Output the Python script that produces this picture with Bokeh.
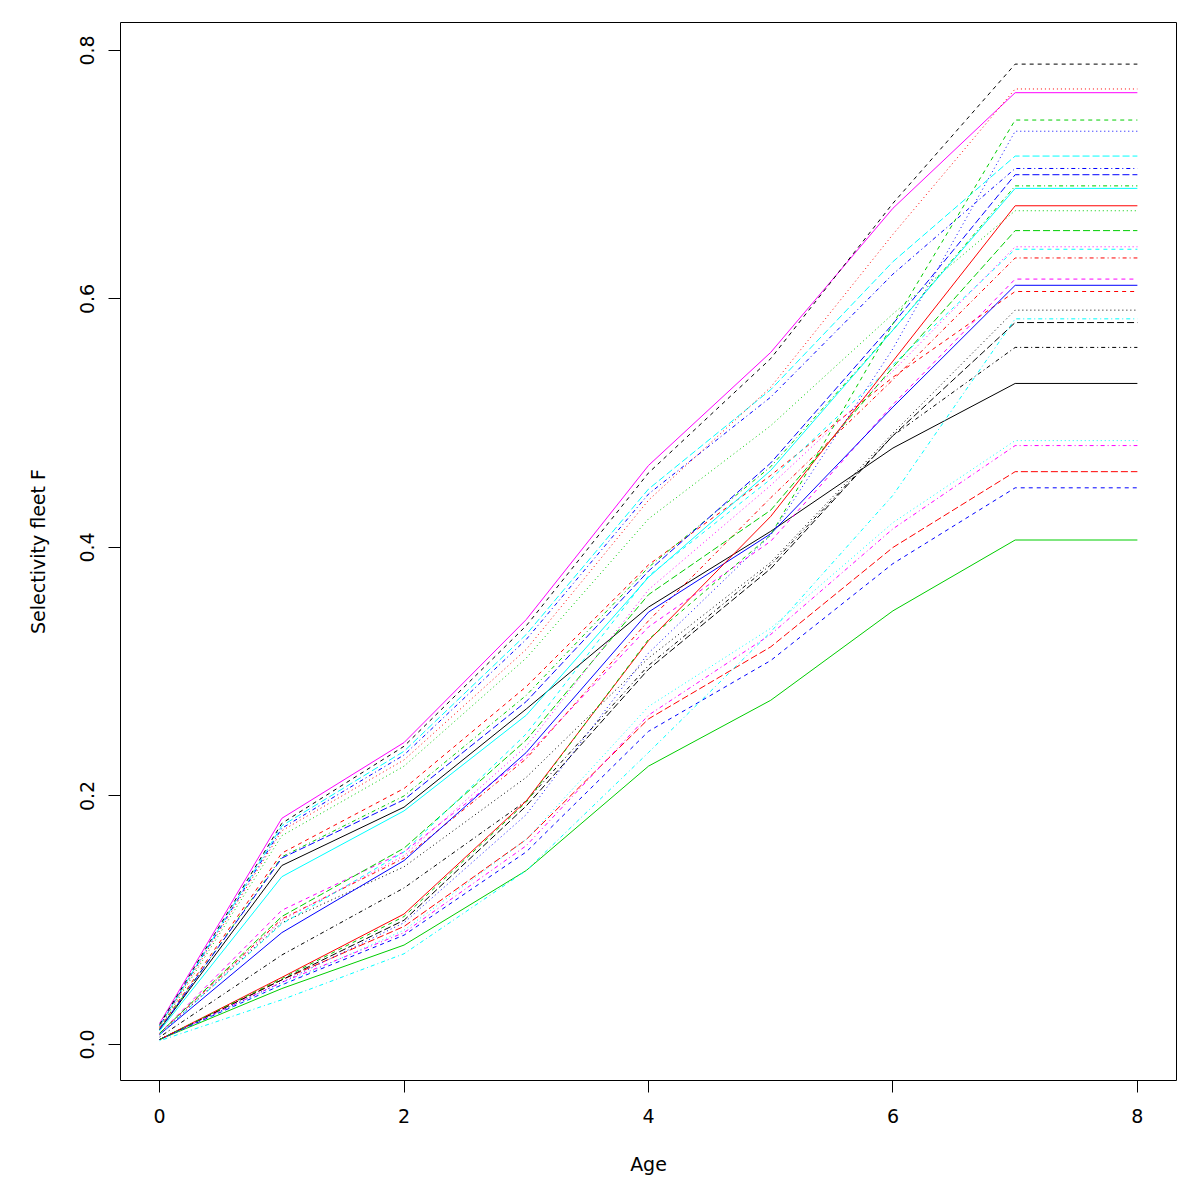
from bokeh.plotting import figure
from bokeh.models import Range1d, FixedTicker, Label
from bokeh.embed import file_html
from bokeh.resources import INLINE

ages = [0, 1, 2, 3, 4, 5, 6, 7, 8]
x_ticks = [0, 2, 4, 6, 8]
y_ticks = [0.0, 0.2, 0.4, 0.6, 0.8]

# R matplot default cycles
palette = ["black", "#FF0000", "#00CD00", "#0000FF", "#00FFFF", "#FF00FF"]
ltys = ["solid", "4 4", "1 3", "1 3 4 3", "7 3"]

y01 = [0.012, 0.144, 0.191, 0.270, 0.352, 0.413, 0.480, 0.532, 0.532]
y02 = [0.013, 0.154, 0.206, 0.288, 0.386, 0.458, 0.537, 0.606, 0.606]
y03 = [0.013, 0.168, 0.224, 0.311, 0.423, 0.498, 0.588, 0.671, 0.671]
y04 = [0.015, 0.174, 0.233, 0.326, 0.443, 0.521, 0.620, 0.705, 0.705]
y05 = [0.015, 0.176, 0.236, 0.330, 0.447, 0.527, 0.630, 0.715, 0.715]
y06 = [0.017, 0.182, 0.243, 0.342, 0.466, 0.557, 0.673, 0.766, 0.766]
y07 = [0.016, 0.178, 0.240, 0.337, 0.460, 0.552, 0.677, 0.789, 0.789]
y08 = [0.014, 0.172, 0.229, 0.318, 0.438, 0.529, 0.652, 0.769, 0.769]
y09 = [0.012, 0.151, 0.200, 0.281, 0.384, 0.465, 0.575, 0.691, 0.691]
y10 = [0.012, 0.150, 0.197, 0.276, 0.381, 0.468, 0.580, 0.700, 0.700]
y11 = [0.011, 0.135, 0.188, 0.265, 0.376, 0.462, 0.575, 0.689, 0.689]
y12 = [0.009, 0.108, 0.155, 0.232, 0.336, 0.405, 0.515, 0.616, 0.616]
y13 = [0.008, 0.098, 0.143, 0.215, 0.311, 0.388, 0.492, 0.591, 0.591]
y14 = [0.009, 0.101, 0.150, 0.230, 0.341, 0.440, 0.535, 0.633, 0.633]
y15 = [0.009, 0.103, 0.158, 0.245, 0.362, 0.430, 0.545, 0.655, 0.655]
y16 = [0.008, 0.090, 0.148, 0.235, 0.348, 0.411, 0.513, 0.611, 0.611]
y17 = [0.008, 0.097, 0.155, 0.250, 0.377, 0.455, 0.547, 0.640, 0.640]
y18 = [0.008, 0.100, 0.152, 0.240, 0.366, 0.450, 0.542, 0.642, 0.642]
y19 = [0.006, 0.072, 0.126, 0.196, 0.305, 0.386, 0.490, 0.561, 0.561]
y20 = [0.004, 0.052, 0.095, 0.165, 0.262, 0.320, 0.400, 0.461, 0.461]
y21 = [0.004, 0.045, 0.080, 0.140, 0.224, 0.277, 0.349, 0.406, 0.406]
y22 = [0.004, 0.048, 0.088, 0.155, 0.252, 0.309, 0.387, 0.448, 0.448]
y23 = [0.004, 0.048, 0.092, 0.165, 0.272, 0.335, 0.420, 0.486, 0.486]
y24 = [0.004, 0.050, 0.090, 0.160, 0.265, 0.330, 0.415, 0.482, 0.482]
y25 = [0.004, 0.052, 0.100, 0.192, 0.302, 0.383, 0.490, 0.581, 0.581]
y26 = [0.004, 0.054, 0.105, 0.196, 0.325, 0.425, 0.550, 0.675, 0.675]
y27 = [0.004, 0.053, 0.103, 0.195, 0.326, 0.410, 0.580, 0.744, 0.744]
y28 = [0.004, 0.050, 0.098, 0.185, 0.315, 0.410, 0.560, 0.735, 0.735]
y29 = [0.003, 0.036, 0.073, 0.140, 0.235, 0.332, 0.442, 0.584, 0.584]

series = [y01, y02, y03, y04, y05, y06, y07, y08, y09, y10, y11, y12, y13, y14, y15,
          y16, y17, y18, y19, y20, y21, y22, y23, y24, y25, y26, y27, y28, y29]

FONT = "DejaVu Sans"

p = figure(width=1192, height=1200, output_backend="svg", toolbar_location=None,
           x_range=Range1d(-0.32, 8.32), y_range=Range1d(-0.0290, 0.8225),
           min_border_left=120, min_border_right=16, min_border_top=22, min_border_bottom=120,
           x_axis_label="Age", y_axis_label="Selectivity fleet F")
p.background_fill_color = "white"
p.border_fill_color = "white"
p.grid.visible = False
p.outline_line_color = "black"
p.outline_line_width = 1

for i, ys in enumerate(series):
    p.line(ages, ys, line_color=palette[i % 6], line_dash=ltys[i % 5], line_width=1)

for ax in (p.xaxis[0], p.yaxis[0]):
    ax.axis_line_color = None
    ax.major_tick_line_color = "black"
    ax.major_tick_in = 0
    ax.major_tick_out = 12
    ax.minor_tick_line_color = None
    ax.major_label_text_font = FONT
    ax.major_label_text_font_size = "19px"
    ax.major_label_text_color = "black"
    ax.axis_label_text_font = FONT
    ax.axis_label_text_font_size = "19px"
    ax.axis_label_text_font_style = "normal"
    ax.axis_label_text_color = "black"

p.xaxis[0].major_label_standoff = 16
p.xaxis[0].axis_label_standoff = 27
p.yaxis[0].major_label_standoff = 14
p.yaxis[0].axis_label_standoff = 29

p.xaxis[0].ticker = FixedTicker(ticks=x_ticks)
p.yaxis[0].ticker = FixedTicker(ticks=y_ticks)
p.yaxis[0].major_label_orientation = "vertical"
p.yaxis[0].major_label_overrides = {0.0: "0.0", 0.2: "0.2", 0.4: "0.4", 0.6: "0.6", 0.8: "0.8"}

footer = Label(x=8.32, y=-0.1207, x_offset=16,
               text="stockassessment.org, WBSS_HAWG_2020_noHERAS, r12339 , git: e2a30d42316c",
               text_align="right", text_baseline="middle", text_font=FONT,
               text_font_size="10px", text_color="black")
p.add_layout(footer)

open("out.html", "w").write(file_html(p, INLINE))
